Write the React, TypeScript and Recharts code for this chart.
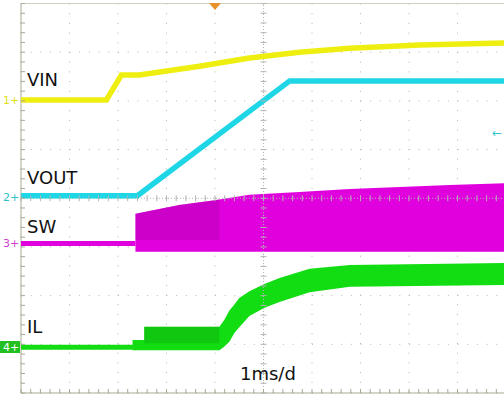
import React from "react";
import {
  ComposedChart,
  Line,
  Area,
  Scatter,
  XAxis,
  YAxis,
  CartesianGrid,
  ReferenceLine,
} from "recharts";

// time in divisions (1ms/d), level in vertical divisions (0 = bottom, 8 = top)
const vinT = [0, 1.76, 2.07, 2.44, 3.68, 4.71, 5.74, 6.78, 8.22, 9.96];
const vinV = [6.02, 6.02, 6.53, 6.53, 6.71, 6.88, 7.0, 7.08, 7.15, 7.19];

const voutT = [0, 2.4, 5.54, 9.96];
const voutV = [4.05, 4.05, 6.41, 6.41];

const swFlatT = [0, 2.36];
const swFlatV = [3.07, 3.07];
const swT = [2.36, 3.26, 3.99, 4.71, 5.74, 6.78, 7.81, 8.84, 9.96];
const swLow = [2.9, 2.9, 2.9, 2.9, 2.9, 2.9, 2.9, 2.9, 2.9];
const swHigh = [3.68, 3.86, 3.96, 4.07, 4.13, 4.19, 4.23, 4.27, 4.31];
const swDarkT = [2.36, 3.26, 3.99, 4.09];
const swDarkLow = [3.14, 3.14, 3.14, 3.14];
const swDarkHigh = [3.68, 3.86, 3.96, 3.98];

const ilFlatT = [0, 2.36];
const ilFlatV = [0.94, 0.94];
const ilT = [2.3, 2.54, 2.54, 4.09, 4.19, 4.3, 4.4, 4.5, 4.71, 5.02, 5.33, 5.95, 6.78, 9.96];
const ilLow = [0.88, 0.88, 0.88, 0.88, 0.95, 1.06, 1.23, 1.35, 1.58, 1.75, 1.87, 2.07, 2.18, 2.22];
const ilHigh = [1.09, 1.09, 1.36, 1.36, 1.5, 1.7, 1.82, 1.95, 2.09, 2.24, 2.36, 2.55, 2.63, 2.67];
const ilDarkT = [2.54, 4.09];
const ilDarkLow = [1.02, 1.02];
const ilDarkHigh = [1.36, 1.36];

const xTicks = [0, 1, 2, 3, 4, 5, 6, 7, 8, 9, 10];
const yTicks = [0, 1, 2, 3, 4, 5, 6, 7, 8];

const pts = (t: number[], v: number[]) => t.map((x, i) => ({ t: x, v: v[i] }));
const band = (t: number[], lo: number[], hi: number[]) =>
  t.map((x, i) => ({ t: x, r: [lo[i], hi[i]] }));

// minor ticks on the centre axes and frame edges
const minor = Array.from({ length: 51 }, (_, i) => i * 0.2);
const vTickPts = minor.filter((m) => m <= 8).map((m) => ({ t: 5, v: m }));
const hTickPts = minor.map((m) => ({ t: m, v: 4 }));
const leftTickPts = minor.filter((m) => m <= 8).map((m) => ({ t: 0, v: m }));
const bottomTickPts = minor.map((m) => ({ t: m, v: 0 }));

const GRID = "#b4b4b4";
const FRAME = "#a9a994";

const HTick = (p: any) => (
  <line x1={p.cx - 3} x2={p.cx + 3} y1={p.cy} y2={p.cy} stroke={GRID} strokeWidth={1} />
);
const VTick = (p: any) => (
  <line x1={p.cx} x2={p.cx} y1={p.cy - 3} y2={p.cy + 3} stroke={GRID} strokeWidth={1} />
);
const LeftTick = (p: any) => (
  <line x1={p.cx} x2={p.cx + 4} y1={p.cy} y2={p.cy} stroke={FRAME} strokeWidth={1} />
);
const BottomTick = (p: any) => (
  <line x1={p.cx} x2={p.cx} y1={p.cy - 4} y2={p.cy} stroke={FRAME} strokeWidth={1} />
);

const label = { fontFamily: "DejaVu Sans", fontSize: 18, fill: "#111" };
const mark = { fontFamily: "DejaVu Sans", fontSize: 11 };

const App = () => {
  return (
    <div style={{ position: "absolute", left: 0, top: 0, width: 504, height: 394, background: "#fff" }}>
      <ComposedChart
        width={504}
        height={394}
        margin={{ top: 3.5, right: -2, bottom: 1, left: 21 }}
      >
        <XAxis type="number" dataKey="t" domain={[0, 10]} ticks={xTicks} hide />
        <YAxis type="number" domain={[0, 8]} ticks={yTicks} hide />
        <CartesianGrid stroke={GRID} strokeDasharray="1 8.7" />
        <ReferenceLine x={0} stroke={FRAME} />
        <ReferenceLine y={0} stroke={FRAME} />
        <ReferenceLine y={8} stroke="#d0d0c0" />
        <ReferenceLine x={5} stroke={GRID} strokeDasharray="1 2" />
        <ReferenceLine y={4} stroke={GRID} strokeDasharray="1 2" />
        <Scatter data={vTickPts} dataKey="v" shape={HTick} isAnimationActive={false} />
        <Scatter data={hTickPts} dataKey="v" shape={VTick} isAnimationActive={false} />
        <Scatter data={leftTickPts} dataKey="v" shape={LeftTick} isAnimationActive={false} />
        <Scatter data={bottomTickPts} dataKey="v" shape={BottomTick} isAnimationActive={false} />

        <Area
          data={band(swT, swLow, swHigh)}
          dataKey="r"
          type="linear"
          stroke="none"
          fill="#e000de"
          fillOpacity={1}
          isAnimationActive={false}
        />
        <Area
          data={band(swDarkT, swDarkLow, swDarkHigh)}
          dataKey="r"
          type="linear"
          stroke="none"
          fill="#9a0098"
          fillOpacity={0.3}
          isAnimationActive={false}
        />
        <Line
          data={pts(swFlatT, swFlatV)}
          dataKey="v"
          type="linear"
          stroke="#e000de"
          strokeWidth={5}
          dot={false}
          activeDot={false}
          isAnimationActive={false}
        />

        <Area
          data={band(ilT, ilLow, ilHigh)}
          dataKey="r"
          type="linear"
          stroke="none"
          fill="#12dc12"
          fillOpacity={1}
          isAnimationActive={false}
        />
        <Area
          data={band(ilDarkT, ilDarkLow, ilDarkHigh)}
          dataKey="r"
          type="linear"
          stroke="none"
          fill="#0a9a0a"
          fillOpacity={0.3}
          isAnimationActive={false}
        />
        <Line
          data={pts(ilFlatT, ilFlatV)}
          dataKey="v"
          type="linear"
          stroke="#12dc12"
          strokeWidth={5}
          dot={false}
          activeDot={false}
          isAnimationActive={false}
        />

        <Line
          data={pts(voutT, voutV)}
          dataKey="v"
          type="linear"
          stroke="#1ed6e6"
          strokeWidth={5.5}
          dot={false}
          activeDot={false}
          isAnimationActive={false}
        />
        <Line
          data={pts(vinT, vinV)}
          dataKey="v"
          type="linear"
          stroke="#eeee10"
          strokeWidth={5.5}
          dot={false}
          activeDot={false}
          isAnimationActive={false}
        />
      </ComposedChart>

      <svg
        width={504}
        height={394}
        style={{ position: "absolute", left: 0, top: 0, pointerEvents: "none" }}
      >
        <polygon points="209,3 221,3 215,10" fill="#e8922c" />
        <text x={27} y={86} {...label}>VIN</text>
        <text x={27} y={184} {...label}>VOUT</text>
        <text x={27} y={233} {...label}>SW</text>
        <text x={27} y={333} {...label}>IL</text>
        <text x={240} y={380} {...label}>1ms/d</text>

        <text x={3} y={104} fill="#e0e020" {...mark}>1+</text>
        <text x={3} y={201} fill="#30c0c8" {...mark}>2+</text>
        <text x={3} y={247} fill="#d040d0" {...mark}>3+</text>
        <rect x={0} y={341} width={20} height={12} fill="#22c022" />
        <text x={3} y={351} fill="#fff" {...mark}>4+</text>
        <text x={492} y={137} fill="#30c8d0" style={{ fontFamily: "DejaVu Sans", fontSize: 12 }}>←</text>
      </svg>
    </div>
  );
};

export default App;
